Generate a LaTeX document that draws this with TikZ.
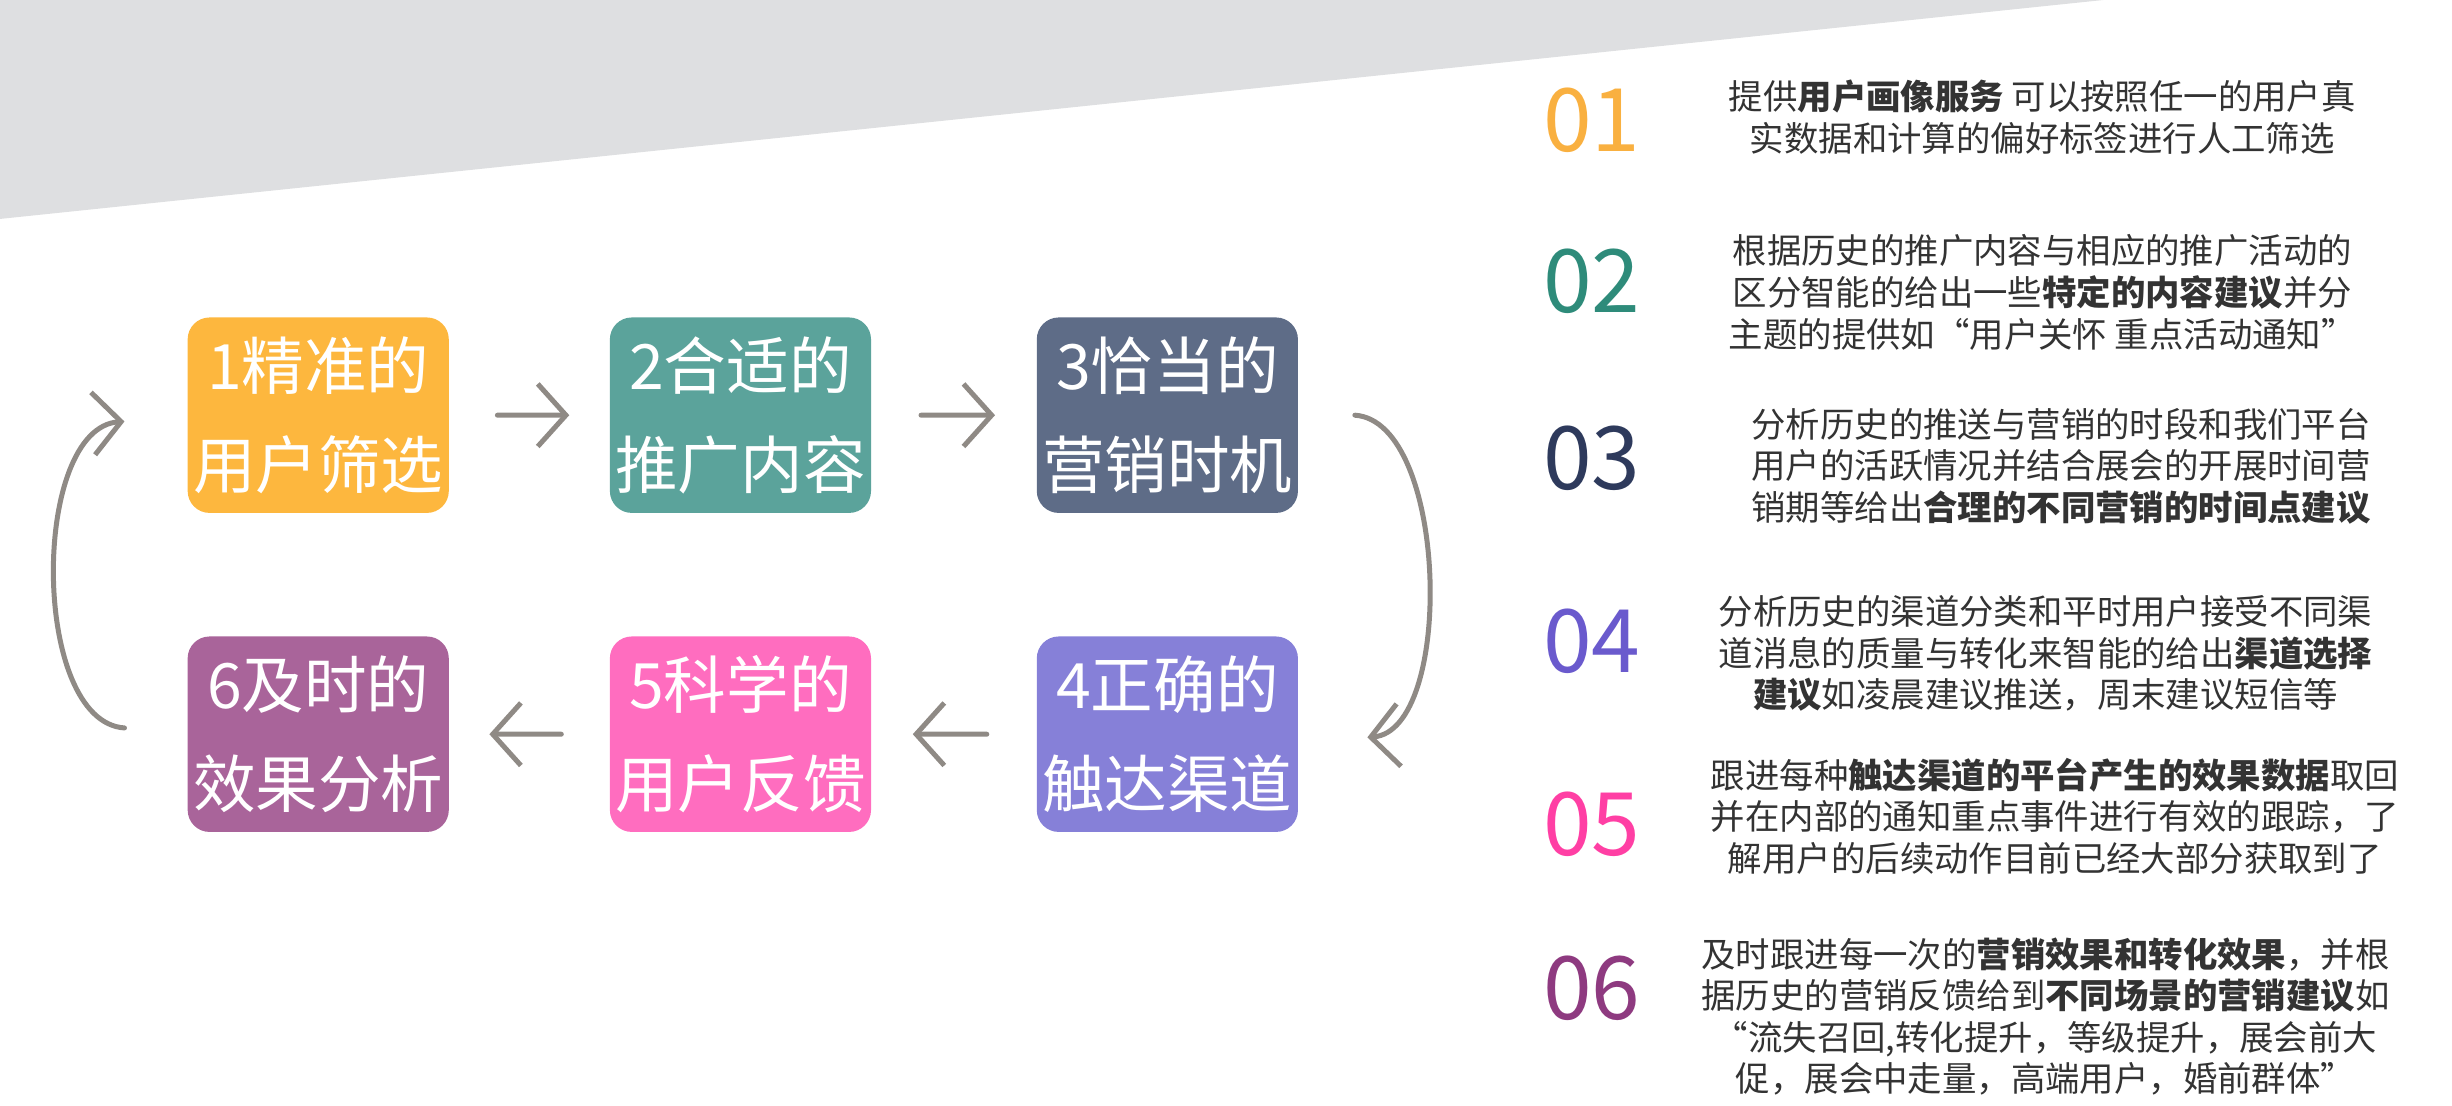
\documentclass[tikz,border=0pt]{standalone}
\usepackage{fontspec}
\setmainfont{Noto Sans CJK SC}
\usetikzlibrary{positioning,calc,arrows.meta}
\definecolor{bandgray}{HTML}{DEDFE1}
\definecolor{sketch}{HTML}{8F8A85}
\definecolor{txtgray}{HTML}{333333}
\definecolor{cA}{HTML}{FDB73E}
\definecolor{cB}{HTML}{5BA39B}
\definecolor{cC}{HTML}{5E6C87}
\definecolor{cD}{HTML}{8680D8}
\definecolor{cE}{HTML}{FF6DBF}
\definecolor{cF}{HTML}{A9649A}
\definecolor{nA}{HTML}{F9B040}
\definecolor{nB}{HTML}{2E8B7A}
\definecolor{nC}{HTML}{2E3A5C}
\definecolor{nD}{HTML}{6A5ACD}
\definecolor{nE}{HTML}{FF3FA4}
\definecolor{nF}{HTML}{8E3A80}
\tikzset{
  stepbox/.style={rounded corners=7pt, minimum width=83.5pt, minimum height=62.5pt,
    align=center, text=white, font=\fontsize{20}{31.5}\selectfont, inner sep=0pt},
  sk/.style={draw=sketch, line width=1.6pt, line cap=round,
    -{Straight Barb[length=9pt,width=20pt]}},
  numlbl/.style={font=\fontsize{28}{30}\selectfont},
  desc/.style={align=center, text=txtgray, font=\fontsize{11}{13.3}\selectfont}
}
\begin{document}
\begin{tikzpicture}[x=1pt,y=1pt]
  \useasboundingbox (0,0) rectangle (784,-353.5);
  \fill[bandgray] (0,0) -- (672.5,0) -- (0,-70) -- cycle;
  % boxes
  \node[stepbox, fill=cA] (b1) at (101.75,-132.75) {1精准的\\用户筛选};
  \node[stepbox, fill=cB] (b2) at (236.75,-132.75) {2合适的\\推广内容};
  \node[stepbox, fill=cC] (b3) at (373.25,-132.75) {3恰当的\\营销时机};
  \node[stepbox, fill=cD] (b4) at (373.25,-234.75) {4正确的\\触达渠道};
  \node[stepbox, fill=cE] (b5) at (236.75,-234.75) {5科学的\\用户反馈};
  \node[stepbox, fill=cF] (b6) at (101.75,-234.75) {6及时的\\效果分析};
  % arrows
  \draw[sk] ($(b1.east)!0.3!(b2.west)$) -- ($(b1.east)!0.75!(b2.west)$);
  \draw[sk] ($(b2.east)!0.3!(b3.west)$) -- ($(b2.east)!0.75!(b3.west)$);
  \draw[sk] ($(b4.west)!0.3!(b5.east)$) -- ($(b4.west)!0.75!(b5.east)$);
  \draw[sk] ($(b5.west)!0.3!(b6.east)$) -- ($(b5.west)!0.75!(b6.east)$);
  \draw[sk] ([xshift=18pt]b3.east) .. controls +(30,-2) and +(28,2) .. ([xshift=22pt,yshift=-1pt]b4.east);
  \draw[sk] ([xshift=-20pt,yshift=2pt]b6.west) .. controls +(-30,2) and +(-30,-2) .. ([xshift=-20pt,yshift=-2pt]b1.west);
  % right column
  \node[numlbl, text=nA] (n1) at (509,-38.5) {01};
  \node[numlbl, text=nB] (n2) at (509,-90) {02};
  \node[numlbl, text=nC] (n3) at (509,-146.5) {03};
  \node[numlbl, text=nD] (n4) at (509,-205) {04};
  \node[numlbl, text=nE] (n5) at (509,-263.5) {05};
  \node[numlbl, text=nF] (n6) at (509,-316) {06};
  \node[desc] (d1) at (653,-37.5) {提供\textbf{用户画像服务} 可以按照任一的用户真\\实数据和计算的偏好标签进行人工筛选};
  \node[desc] (d2) at (653,-93.5) {根据历史的推广内容与相应的推广活动的\\区分智能的给出一些\textbf{特定的内容建议}并分\\主题的提供如“用户关怀 重点活动通知”};
  \node[desc] (d3) at (659,-149) {分析历史的推送与营销的时段和我们平台\\用户的活跃情况并结合展会的开展时间营\\销期等给出\textbf{合理的不同营销的时间点建议}};
  \node[desc] (d4) at (654,-209) {分析历史的渠道分类和平时用户接受不同渠\\道消息的质量与转化来智能的给出\textbf{渠道选择}\\\textbf{建议}如凌晨建议推送，周末建议短信等};
  \node[desc] (d5) at (657,-261) {跟进每种\textbf{触达渠道的平台产生的效果数据}取回\\并在内部的通知重点事件进行有效的跟踪，了\\解用户的后续动作目前已经大部分获取到了};
  \node[desc] (d6) at (654,-325) {及时跟进每一次的\textbf{营销效果和转化效果}，并根\\据历史的营销反馈给到\textbf{不同场景的营销建议}如\\“流失召回,转化提升，等级提升，展会前大\\促，展会中走量，高端用户，婚前群体”};
\end{tikzpicture}
\end{document}
